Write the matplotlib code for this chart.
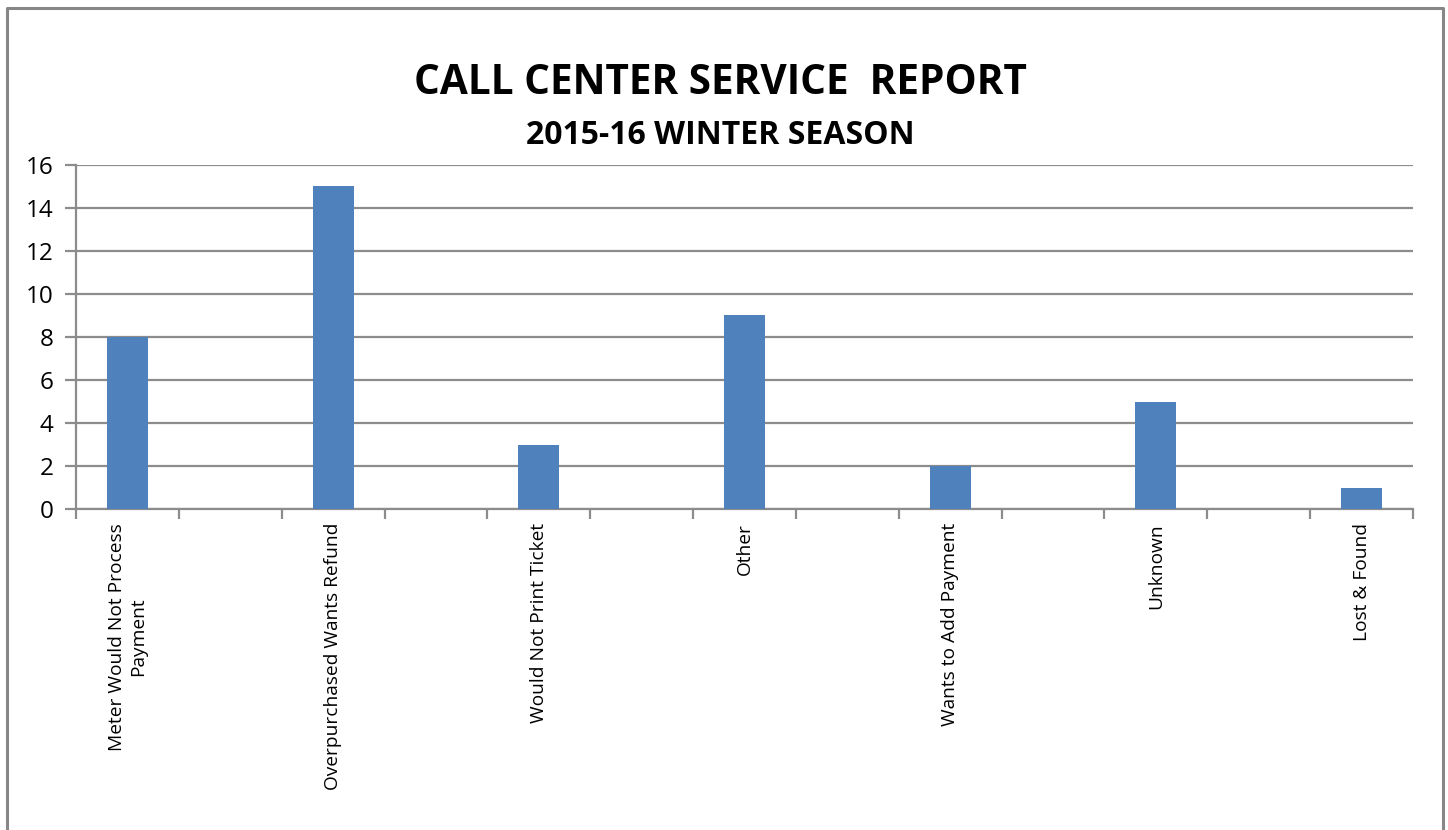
import matplotlib
matplotlib.use("Agg")
import matplotlib.pyplot as plt
import numpy as np

categories = [
    "Meter Would Not Process\nPayment",
    "Overpurchased Wants Refund",
    "Would Not Print Ticket",
    "Other",
    "Wants to Add Payment",
    "Unknown",
    "Lost & Found",
]
calls = [8, 15, 3, 9, 2, 5, 1]
y_ticks = [0, 2, 4, 6, 8, 10, 12, 14, 16]

BAR = "#4F81BD"
GRID = "#8C8C8C"
plt.rcParams["font.family"] = ["Open Sans", "DejaVu Sans"]

# every category sits in every other slot, with an empty slot between
n_slots = 2 * len(categories) - 1
pos = np.arange(len(categories)) * 2

fig = plt.figure(figsize=(14.48, 8.30), dpi=100)
ax = fig.add_axes([76 / 1448, 1 - 509 / 830, (1413 - 76) / 1448, (509 - 165) / 830])

ax.bar(pos, calls, width=0.4, color=BAR, zorder=3)
ax.set_xlim(-0.5, n_slots - 0.5)
ax.set_ylim(0, 16)
ax.set_yticks(y_ticks)
ax.yaxis.grid(True, color=GRID, linewidth=1.6, zorder=0)

ax.set_xticks(pos)
ax.set_xticklabels(categories, rotation=90, ha="center", va="top",
                   multialignment="center", fontsize=13.8)
ax.tick_params(axis="x", which="major", length=0, pad=10)
ax.set_xticks(np.arange(n_slots + 1) - 0.5, minor=True)
ax.tick_params(axis="x", which="minor", length=7, width=1.6, color=GRID)
ax.tick_params(axis="y", length=8, width=1.6, color=GRID, labelsize=17.5, pad=8)

for side in ("top", "right"):
    ax.spines[side].set_visible(False)
for side in ("left", "bottom"):
    ax.spines[side].set_color(GRID)
    ax.spines[side].set_linewidth(1.6)

fig.text(0.4972, 1 - 83 / 830, "CALL CENTER SERVICE  REPORT", ha="center",
         va="center", fontsize=29.2, fontweight="bold")
fig.text(0.4972, 1 - 135 / 830, "2015-16 WINTER SEASON", ha="center",
         va="center", fontsize=23, fontweight="bold")

# chart-area frame, open at the bottom
frame_x = [7 / 1448, 7 / 1448, 1443 / 1448, 1443 / 1448]
frame_y = [0, 1 - 8 / 830, 1 - 8 / 830, 0]
fig.add_artist(plt.Line2D(frame_x, frame_y, transform=fig.transFigure,
                          color="#878787", linewidth=2.2))

fig.savefig("out.png", dpi=100, facecolor="white")
